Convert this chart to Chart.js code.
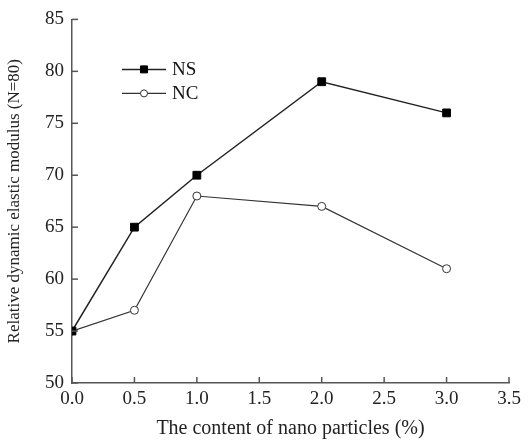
<!DOCTYPE html>
<html lang="en">
<head>
  <meta charset="UTF-8" />
  <title>Relative dynamic elastic modulus</title>
  <script src="https://cdn.jsdelivr.net/npm/chart.js"></script>
  <style>
    html, body { margin: 0; padding: 0; background: #fff; }
    #wrap { width: 528px; height: 445px; }
  </style>
</head>
<body>
  <div id="wrap"><canvas id="modulusChart" width="528" height="445"></canvas></div>

  <script>
    // content of nano particles (%)
    const contents = [0.0, 0.5, 1.0, 2.0, 3.0];
    const nsValues = [55, 65, 70, 79, 76];
    const ncValues = [55, 57, 68, 67, 61];
    const seriesNames = ['NS', 'NC'];

    const serif = 'Liberation Serif, Times New Roman, serif';
    const axisColor = '#555';

    // small ticks pointing into the plot, drawn by hand
    const innerTicks = {
      id: 'innerTicks',
      afterDraw(chart) {
        const { ctx, chartArea, scales } = chart;
        ctx.save();
        ctx.strokeStyle = axisColor;
        ctx.lineWidth = 1.5;
        scales.x.ticks.forEach(t => {
          const px = scales.x.getPixelForValue(t.value);
          ctx.beginPath();
          ctx.moveTo(px, chartArea.bottom);
          ctx.lineTo(px, chartArea.bottom - 6);
          ctx.stroke();
        });
        scales.y.ticks.forEach(t => {
          const py = scales.y.getPixelForValue(t.value);
          ctx.beginPath();
          ctx.moveTo(chartArea.left, py);
          ctx.lineTo(chartArea.left + 6, py);
          ctx.stroke();
        });
        ctx.restore();
      }
    };

    // legend inside the plot, top left
    const innerLegend = {
      id: 'innerLegend',
      afterDatasetsDraw(chart) {
        const { ctx, chartArea } = chart;
        ctx.save();
        chart.data.datasets.forEach((ds, i) => {
          const x0 = chartArea.left + 50;
          const y = chartArea.top + 50 + i * 24;
          ctx.strokeStyle = ds.borderColor;
          ctx.lineWidth = ds.borderWidth;
          ctx.beginPath();
          ctx.moveTo(x0, y);
          ctx.lineTo(x0 + 44, y);
          ctx.stroke();
          ctx.fillStyle = ds.pointBackgroundColor;
          ctx.strokeStyle = ds.pointBorderColor;
          ctx.lineWidth = 1;
          ctx.beginPath();
          if (ds.pointStyle === 'rect') {
            const s = 3.5;
            ctx.rect(x0 + 22 - s, y - s, 2 * s, 2 * s);
          } else {
            ctx.arc(x0 + 22, y, 3.5, 0, Math.PI * 2);
          }
          ctx.fill();
          ctx.stroke();
          ctx.fillStyle = '#111';
          ctx.font = '19px ' + serif;
          ctx.textBaseline = 'middle';
          ctx.fillText(ds.label, x0 + 50, y + 1);
        });
        ctx.restore();
      }
    };

    const ctx = document.getElementById('modulusChart').getContext('2d');
    new Chart(ctx, {
      type: 'line',
      data: {
        datasets: [
          {
            label: seriesNames[0],
            data: contents.map((c, i) => ({ x: c, y: nsValues[i] })),
            borderColor: '#222',
            borderWidth: 1.5,
            pointStyle: 'rect',
            pointRadius: 5.5,
            pointBackgroundColor: '#000',
            pointBorderColor: '#000',
            pointBorderWidth: 1
          },
          {
            label: seriesNames[1],
            data: contents.map((c, i) => ({ x: c, y: ncValues[i] })),
            borderColor: '#333',
            borderWidth: 1.2,
            pointStyle: 'circle',
            pointRadius: 4,
            pointBackgroundColor: '#fff',
            pointBorderColor: '#333',
            pointBorderWidth: 1
          }
        ]
      },
      options: {
        responsive: false,
        animation: false,
        layout: { padding: { top: 13, right: 19, left: 0, bottom: 0 } },
        plugins: {
          legend: { display: false },
          tooltip: { enabled: false }
        },
        scales: {
          x: {
            type: 'linear',
            min: 0,
            max: 3.5,
            grid: { display: false, drawTicks: false },
            border: { display: true, color: axisColor, width: 1.5 },
            ticks: {
              stepSize: 0.5,
              padding: 5,
              color: '#222',
              font: { family: serif, size: 19 },
              callback: v => v.toFixed(1)
            },
            title: {
              display: true,
              text: 'The content of nano particles (%)',
              color: '#222',
              font: { family: serif, size: 20 },
              padding: { top: 6 }
            },
            afterFit: s => { s.height = 62; }
          },
          y: {
            min: 50,
            max: 85,
            grid: { display: false, drawTicks: false },
            border: { display: true, color: axisColor, width: 1.5 },
            ticks: {
              stepSize: 5,
              padding: 8,
              color: '#222',
              font: { family: serif, size: 19 }
            },
            title: {
              display: true,
              text: 'Relative dynamic elastic modulus (N=80)',
              color: '#222',
              font: { family: serif, size: 17 },
              padding: { bottom: 0 }
            },
            afterFit: s => { s.width = 72; }
          }
        }
      },
      plugins: [innerTicks, innerLegend]
    });
  </script>
</body>
</html>
